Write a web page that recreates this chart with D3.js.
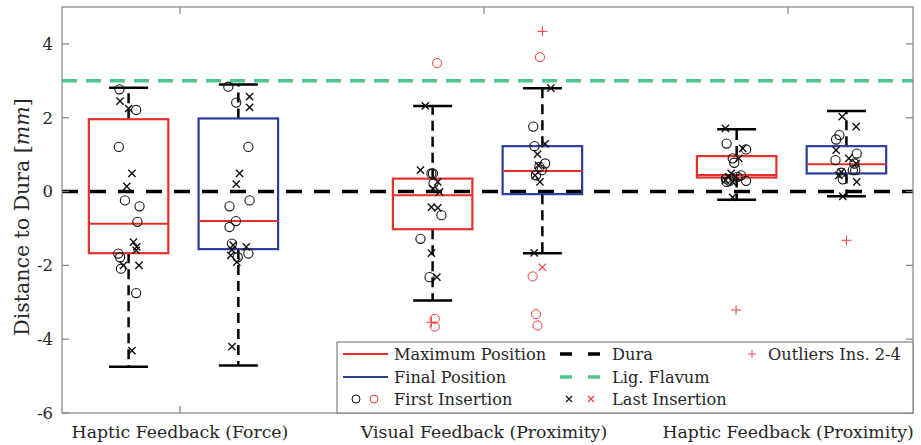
<!DOCTYPE html>
<meta charset="utf-8">
<title>Distance to Dura</title>
<body>
<script src="https://cdn.jsdelivr.net/npm/d3@7"></script>
<style>
html, body {
    margin: 0;
    background: #fff;
}
svg {
    display: block;
    font-family: "DejaVu Serif", serif;
}
</style>
<svg></svg>
<script>
// categories and tick labels
var categories = ["Haptic Feedback (Force)", "Visual Feedback (Proximity)", "Haptic Feedback (Proximity)"];
var yTicks = [-6, -4, -2, 0, 2, 4];

// box stats per category: [lower whisker, q1, median, q3, upper whisker]
var maxBox = [
    [-4.75, -1.67, -0.87, 1.96, 2.81],
    [-2.95, -1.02, -0.10, 0.35, 2.32],
    [-0.22, 0.38, 0.45, 0.96, 1.69]
];
var finalBox = [
    [-4.71, -1.56, -0.80, 1.98, 2.90],
    [-1.67, -0.07, 0.56, 1.23, 2.80],
    [-0.13, 0.49, 0.74, 1.23, 2.18]
];

// points: [category index, jitter, value]
var maxFirst = [
    [0, -0.030, 2.77], [0, 0.025, 2.21], [0, -0.032, 1.21], [0, -0.012, -0.24], [0, 0.036, -0.40],
    [0, 0.029, -0.82], [0, -0.034, -1.68], [0, -0.028, -1.78], [0, -0.025, -2.09], [0, 0.025, -2.75],
    [1, -0.004, 0.49], [1, 0.001, 0.49], [1, 0.003, 0.22], [1, 0.029, -0.64], [1, -0.040, -1.28], [1, -0.010, -2.32],
    [2, -0.033, 1.30], [2, 0.031, 1.14], [2, -0.013, 0.90], [2, -0.008, 0.78], [2, 0.014, 0.44],
    [2, -0.035, 0.35], [2, 0.003, 0.40], [2, 0.031, 0.29], [2, -0.024, 0.29], [2, -0.033, 0.26]
];
var maxLast = [
    [0, -0.028, 2.45], [0, 0.000, 2.25], [0, 0.011, 0.49], [0, -0.006, 0.14], [0, 0.016, -1.37],
    [0, 0.027, -1.50], [0, 0.025, -1.59], [0, -0.017, -2.00], [0, 0.034, -2.00], [0, 0.011, -4.31],
    [1, -0.024, 2.32], [1, -0.040, 0.58], [1, 0.017, 0.26], [1, 0.001, 0.08], [1, 0.023, -0.01],
    [1, -0.004, -0.42], [1, 0.017, -0.44], [1, -0.004, -1.67], [1, 0.014, -2.32],
    [2, -0.037, 1.71], [2, 0.020, 1.17], [2, 0.007, 0.90], [2, -0.018, 0.49], [2, -0.026, 0.40],
    [2, -0.002, 0.40], [2, -0.037, 0.31], [2, -0.013, 0.26], [2, -0.013, -0.16]
];
var maxFirstOut = [[1, 0.015, 3.48], [1, 0.007, -3.45], [1, 0.007, -3.66]];
var maxLastOut = [];
var maxOut24 = [[1, -0.004, -3.54], [2, -0.002, -3.21]];

var finalFirst = [
    [0, -0.033, 2.84], [0, -0.007, 2.41], [0, 0.033, 1.21], [0, 0.037, -0.24], [0, -0.029, -0.40],
    [0, -0.008, -0.80], [0, -0.029, -0.96], [0, -0.021, -1.41], [0, -0.002, -1.78], [0, 0.033, -1.68],
    [1, -0.030, 1.76], [1, -0.026, 1.23], [1, 0.009, 0.76], [1, -0.010, 0.67], [1, -0.002, 0.58], [1, -0.021, 0.44],
    [2, -0.023, 1.53], [2, -0.034, 1.41], [2, -0.036, 0.85], [2, 0.034, 1.03], [2, 0.026, 0.76],
    [2, 0.029, 0.58], [2, -0.017, 0.51], [2, -0.012, 0.33], [2, 0.021, 0.58]
];
var finalLast = [
    [0, 0.037, 2.57], [0, 0.037, 2.28], [0, 0.004, 0.49], [0, -0.007, 0.20], [0, -0.021, -1.58],
    [0, 0.026, -1.50], [0, -0.025, -1.73], [0, -0.005, -1.91], [0, -0.021, -4.20], [0, -0.017, -1.45],
    [1, 0.028, 2.80], [1, 0.009, 1.29], [1, -0.016, 1.01], [1, -0.013, 0.71], [1, -0.024, 0.44],
    [1, -0.008, 0.26], [1, -0.027, -1.66],
    [2, -0.014, 2.03], [2, 0.032, 1.76], [2, -0.034, 1.12], [2, 0.008, 0.90], [2, 0.032, 0.76],
    [2, -0.017, 0.53], [2, -0.025, 0.44], [2, 0.034, 0.26], [2, -0.012, -0.13]
];
var finalFirstOut = [[1, -0.008, 3.64], [1, -0.032, -2.30], [1, -0.021, -3.32], [1, -0.016, -3.63]];
var finalLastOut = [[1, 0.000, -2.05]];
var finalOut24 = [[1, 0.000, 4.34], [2, 0.000, -1.32]];

var duraLevel = 0,
    flavumLevel = 3;

var width = 921,
    height = 445,
    mLeft = 62,
    mRight = 913,
    mTop = 7,
    mBottom = 413,
    red = "#e5302a",
    blue = "#2e3c9c",
    green = "#4cc98a",
    outRed = "#f03c3c",
    axisColor = "#808080",
    textColor = "#262626",
    boxW = 0.2615,
    maxOff = -0.169,
    finalOff = 0.192;

var svg = d3.select("svg")
    .attr("width", width)
    .attr("height", height);

var x = d3.scaleLinear().domain([0.612, 3.411]).range([mLeft, mRight]);
var y = d3.scaleLinear().domain([-6, 5]).range([mBottom, mTop]);

// reference lines
svg.append("line")
    .attr("x1", mLeft).attr("x2", mRight)
    .attr("y1", y(flavumLevel)).attr("y2", y(flavumLevel))
    .attr("stroke", green)
    .attr("stroke-width", 3.5)
    .attr("stroke-dasharray", "15,9");

svg.append("line")
    .attr("x1", mLeft).attr("x2", mRight)
    .attr("y1", y(duraLevel)).attr("y2", y(duraLevel))
    .attr("stroke", "#000")
    .attr("stroke-width", 3.5)
    .attr("stroke-dasharray", "16,12");

function drawBox(stats, off, color) {
    var g = svg.append("g");
    stats.forEach(function(s, i) {
        var cx = x(i + 1 + off),
            hw = (x(boxW) - x(0)) / 2,
            cw = hw * 0.49;
        g.append("line")
            .attr("x1", cx).attr("x2", cx)
            .attr("y1", y(s[3])).attr("y2", y(s[4]))
            .attr("stroke", "#000").attr("stroke-width", 2.5)
            .attr("stroke-dasharray", "10,6");
        g.append("line")
            .attr("x1", cx).attr("x2", cx)
            .attr("y1", y(s[1])).attr("y2", y(s[0]))
            .attr("stroke", "#000").attr("stroke-width", 2.5)
            .attr("stroke-dasharray", "10,6");
        [s[0], s[4]].forEach(function(v) {
            g.append("line")
                .attr("x1", cx - cw).attr("x2", cx + cw)
                .attr("y1", y(v)).attr("y2", y(v))
                .attr("stroke", "#000").attr("stroke-width", 2.5);
        });
        g.append("rect")
            .attr("x", cx - hw).attr("y", y(s[3]))
            .attr("width", 2 * hw).attr("height", y(s[1]) - y(s[3]))
            .attr("fill", "none")
            .attr("stroke", color).attr("stroke-width", 2.2);
        g.append("line")
            .attr("x1", cx - hw).attr("x2", cx + hw)
            .attr("y1", y(s[2])).attr("y2", y(s[2]))
            .attr("stroke", red).attr("stroke-width", 2);
    });
}

drawBox(maxBox, maxOff, red);
drawBox(finalBox, finalOff, blue);

function circles(data, off, color, sw) {
    svg.append("g").selectAll("circle")
        .data(data)
        .enter().append("circle")
        .attr("cx", function(d) { return x(d[0] + 1 + off + d[1]); })
        .attr("cy", function(d) { return y(d[2]); })
        .attr("r", 4.6)
        .attr("fill", "none")
        .attr("stroke", color)
        .attr("stroke-width", sw);
}

function crosses(data, off, color, sw) {
    var s = 3.6;
    svg.append("g").selectAll("path")
        .data(data)
        .enter().append("path")
        .attr("transform", function(d) {
            return "translate(" + x(d[0] + 1 + off + d[1]) + "," + y(d[2]) + ")";
        })
        .attr("d", "M" + [-s, -s] + "L" + [s, s] + "M" + [-s, s] + "L" + [s, -s])
        .attr("fill", "none")
        .attr("stroke", color)
        .attr("stroke-width", sw);
}

function pluses(data, off, color) {
    var s = 5;
    svg.append("g").selectAll("path")
        .data(data)
        .enter().append("path")
        .attr("transform", function(d) {
            return "translate(" + x(d[0] + 1 + off + d[1]) + "," + y(d[2]) + ")";
        })
        .attr("d", "M" + [-s, 0] + "L" + [s, 0] + "M" + [0, -s] + "L" + [0, s])
        .attr("fill", "none")
        .attr("stroke", color)
        .attr("stroke-width", 1);
}

circles(maxFirst, maxOff, "#111", 1.1);
crosses(maxLast, maxOff, "#111", 1.4);
circles(finalFirst, finalOff, "#111", 1.1);
crosses(finalLast, finalOff, "#111", 1.4);
circles(maxFirstOut, maxOff, outRed, 1);
crosses(maxLastOut, maxOff, outRed, 1.2);
circles(finalFirstOut, finalOff, outRed, 1);
crosses(finalLastOut, finalOff, outRed, 1.2);
pluses(maxOut24, maxOff, outRed);
pluses(finalOut24, finalOff, outRed);

// axes frame and ticks
var tl = 7;
var frame = svg.append("g")
    .attr("stroke", axisColor)
    .attr("stroke-width", 1.2)
    .attr("fill", "none");

frame.append("rect")
    .attr("x", mLeft).attr("y", mTop)
    .attr("width", mRight - mLeft).attr("height", mBottom - mTop);

yTicks.forEach(function(t) {
    frame.append("line").attr("x1", mLeft).attr("x2", mLeft + tl).attr("y1", y(t)).attr("y2", y(t));
    frame.append("line").attr("x1", mRight).attr("x2", mRight - tl).attr("y1", y(t)).attr("y2", y(t));
});
categories.forEach(function(c, i) {
    frame.append("line").attr("x1", x(i + 1)).attr("x2", x(i + 1)).attr("y1", mTop).attr("y2", mTop + tl);
    frame.append("line").attr("x1", x(i + 1)).attr("x2", x(i + 1)).attr("y1", mBottom).attr("y2", mBottom - tl);
});

svg.append("g").selectAll("text")
    .data(yTicks)
    .enter().append("text")
    .attr("x", mLeft - 9)
    .attr("y", function(d) { return y(d); })
    .attr("dy", "0.36em")
    .attr("text-anchor", "end")
    .attr("font-size", 16.5)
    .attr("fill", textColor)
    .text(function(d) { return d; });

svg.append("g").selectAll("text")
    .data(categories)
    .enter().append("text")
    .attr("x", function(d, i) { return x(i + 1); })
    .attr("y", 438)
    .attr("text-anchor", "middle")
    .attr("font-size", 17.3)
    .attr("fill", textColor)
    .text(function(d) { return d; });

var yl = svg.append("text")
    .attr("transform", "translate(29,217)rotate(-90)")
    .attr("text-anchor", "middle")
    .attr("font-size", 20.5)
    .attr("fill", textColor);
yl.append("tspan").text("Distance to Dura [");
yl.append("tspan").attr("font-style", "italic").text("mm");
yl.append("tspan").text("]");

// legend
var lg = svg.append("g");
lg.append("rect")
    .attr("x", 337).attr("y", 342)
    .attr("width", mRight - 337).attr("height", mBottom - 342)
    .attr("fill", "#fff")
    .attr("stroke", axisColor)
    .attr("stroke-width", 1.2);

var rows = [354, 377, 399];
var lgText = [
    ["Maximum Position", 394, rows[0]],
    ["Final Position", 394, rows[1]],
    ["First Insertion", 394, rows[2]],
    ["Dura", 612, rows[0]],
    ["Lig. Flavum", 612, rows[1]],
    ["Last Insertion", 612, rows[2]],
    ["Outliers Ins. 2-4", 768, rows[0]]
];
lg.selectAll("text")
    .data(lgText)
    .enter().append("text")
    .attr("x", function(d) { return d[1]; })
    .attr("y", function(d) { return d[2]; })
    .attr("dy", "0.36em")
    .attr("font-size", 16.2)
    .attr("fill", textColor)
    .text(function(d) { return d[0]; });

lg.append("line").attr("x1", 343).attr("x2", 388).attr("y1", rows[0]).attr("y2", rows[0])
    .attr("stroke", red).attr("stroke-width", 2);
lg.append("line").attr("x1", 343).attr("x2", 388).attr("y1", rows[1]).attr("y2", rows[1])
    .attr("stroke", blue).attr("stroke-width", 2);
lg.append("line").attr("x1", 560).attr("x2", 600).attr("y1", rows[0]).attr("y2", rows[0])
    .attr("stroke", "#000").attr("stroke-width", 3.5).attr("stroke-dasharray", "12,16");
lg.append("line").attr("x1", 560).attr("x2", 600).attr("y1", rows[1]).attr("y2", rows[1])
    .attr("stroke", green).attr("stroke-width", 3.5).attr("stroke-dasharray", "12,16");
lg.append("circle").attr("cx", 356).attr("cy", rows[2]).attr("r", 4)
    .attr("fill", "none").attr("stroke", "#111").attr("stroke-width", 1);
lg.append("circle").attr("cx", 374).attr("cy", rows[2]).attr("r", 4)
    .attr("fill", "none").attr("stroke", outRed).attr("stroke-width", 1);
[[569, "#111"], [591, outRed]].forEach(function(m) {
    var s = 3;
    lg.append("path")
        .attr("transform", "translate(" + m[0] + "," + rows[2] + ")")
        .attr("d", "M" + [-s, -s] + "L" + [s, s] + "M" + [-s, s] + "L" + [s, -s])
        .attr("stroke", m[1]).attr("stroke-width", 1.2);
});
lg.append("path")
    .attr("transform", "translate(752," + rows[0] + ")")
    .attr("d", "M-4,0L4,0M0,-4L0,4")
    .attr("stroke", outRed).attr("stroke-width", 1);
</script>
